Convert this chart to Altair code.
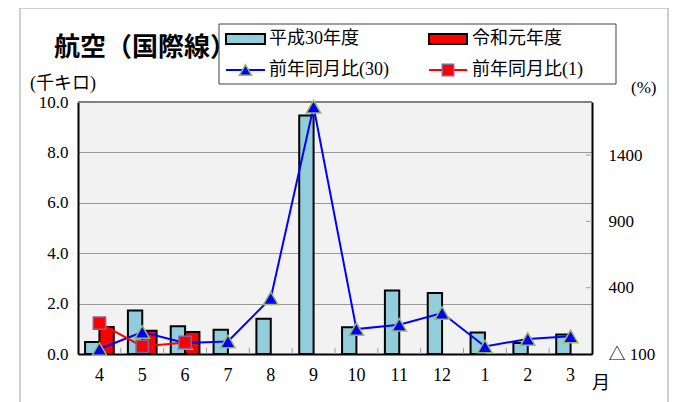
import altair as alt
import pandas as pd

# ---- data ----
months = ["4", "5", "6", "7", "8", "9", "10", "11", "12", "1", "2", "3"]
h30_vals = [0.48, 1.73, 1.10, 0.96, 1.40, 9.46, 1.06, 2.52, 2.42, 0.85, 0.44, 0.77]
r1_months = ["4", "5", "6"]
r1_vals = [1.07, 0.92, 0.87]
ratio30 = [-62, 66, -17, -5, 321, 1764, 88, 121, 209, -43, 13, 33]
ratio1 = [133, -43, -13]
series_names = ["平成30年度", "令和元年度"]
line_names = ["前年同月比(30)", "前年同月比(1)"]
left_ticks = [0, 2, 4, 6, 8, 10]
right_ticks = [-100, 400, 900, 1400]

bars_df = pd.DataFrame({
    "month": months + r1_months,
    "series": [series_names[0]] * len(months) + [series_names[1]] * len(r1_months),
    "value": h30_vals + r1_vals,
})
l30_df = pd.DataFrame({"month": months, "ratio": ratio30})
l1_df = pd.DataFrame({"month": r1_months, "ratio": ratio1})
tick_df = pd.DataFrame({"month": months[1:]})
rtick_df = pd.DataFrame({"ratio": right_ticks[1:]})
top_df = pd.DataFrame({"value": [left_ticks[-1]]})
one = pd.DataFrame({"k": [0]})

NUM = "Liberation Serif, DejaVu Serif, serif"
JP = "Liberation Serif, Noto Sans CJK JP, serif"
W, H = 514, 252
HALF_STEP = W / 12 / 2

x_axis = alt.Axis(title=None, labelAngle=0, ticks=False, domainColor="black",
                  domainWidth=2, labelFont=NUM, labelFontSize=18, labelPadding=12,
                  labelColor="black")
x_scale = alt.Scale(paddingInner=0.33, paddingOuter=0.165)


def xenc():
    return alt.X("month:N", sort=months, scale=x_scale, axis=x_axis)


yleft = alt.Y("value:Q", scale=alt.Scale(domain=[0, 10], nice=False),
              axis=alt.Axis(title=None, values=left_ticks, format=".1f", orient="left",
                            grid=True, gridColor="#9a9a9a", gridWidth=1, ticks=False,
                            domainColor="black", domainWidth=2, labelFont=NUM,
                            labelFontSize=17, labelPadding=10, labelColor="black"))

bars = alt.Chart(bars_df).mark_bar(stroke="black", strokeWidth=2).encode(
    x=xenc(),
    xOffset=alt.XOffset("series:N", sort=series_names,
                        scale=alt.Scale(domain=series_names, paddingInner=0, paddingOuter=0)),
    y=yleft,
    color=alt.Color("series:N", scale=alt.Scale(domain=series_names,
                                                range=["#92cddc", "#ff0000"]), legend=None),
)

minor = alt.Chart(tick_df).mark_rule(color="#a0a0a0", strokeWidth=1, xOffset=-HALF_STEP).encode(
    x=xenc(), y=alt.datum(0), y2=alt.datum(0.25)
)

top_edge = alt.Chart(top_df).mark_rule(color="#808080", strokeWidth=2).encode(
    y=alt.Y("value:Q"), x=alt.value(0), x2=alt.value(W))

left = alt.layer(bars, minor, top_edge)

right_expr = "datum.value < 0 ? '△ ' + format(-datum.value, 'd') : format(datum.value, 'd')"


def yright():
    return alt.Y("ratio:Q", scale=alt.Scale(domain=[-100, 1800], nice=False),
                 axis=alt.Axis(title=None, orient="right", values=right_ticks,
                               labelExpr=right_expr, grid=False, ticks=False,
                               domainColor="black", domainWidth=2, labelFont=JP,
                               labelFontSize=17, labelPadding=16, labelAlign="left",
                               labelColor="black"))


rticks = alt.Chart(rtick_df).mark_rule(color="#a0a0a0", strokeWidth=1).encode(
    y=yright(), x=alt.value(W - 6), x2=alt.value(W))
line30 = alt.Chart(l30_df).mark_line(color="#0000ff", strokeWidth=2).encode(x=xenc(), y=yright())
pts30 = alt.Chart(l30_df).mark_point(shape="triangle-up", fill="#0000ff", stroke="#9bbb59",
                                     strokeWidth=1.5, size=210, opacity=1, fillOpacity=1).encode(
    x=xenc(), y=yright())
line1 = alt.Chart(l1_df).mark_line(color="#ff0000", strokeWidth=2).encode(x=xenc(), y=yright())
pts1 = alt.Chart(l1_df).mark_point(shape="square", fill="#ff0000", stroke="#8064a2",
                                   strokeWidth=1.5, size=150, opacity=1, fillOpacity=1).encode(
    x=xenc(), y=yright())

right = alt.layer(rticks, line30, pts30, line1, pts1)


def txt(s, x, y, size=18, weight="normal", font=JP, align="left"):
    return alt.Chart(one).mark_text(text=s, font=font, fontSize=size, fontWeight=weight,
                                    align=align, baseline="middle", color="black").encode(
        x=alt.value(x), y=alt.value(y))


def box(x, x2, y, y2, fill, stroke, sw):
    return alt.Chart(one).mark_rect(fill=fill, stroke=stroke, strokeWidth=sw).encode(
        x=alt.value(x), x2=alt.value(x2), y=alt.value(y), y2=alt.value(y2))


frame = alt.Chart(one).mark_rect(fillOpacity=0, stroke="#a0a0a0", strokeWidth=1).encode(
    x=alt.value(-58), x2=alt.value(590), y=alt.value(-94), y2=alt.value(330))

legend_box = box(141, 538, -78, -18, "white", "#404040", 1)
sw1 = box(148, 187, -68, -58, "#92cddc", "black", 2)
sw2 = box(351, 389, -68, -58, "#ff0000", "black", 2)
lr1 = alt.Chart(one).mark_rule(color="#0000ff", strokeWidth=2).encode(
    x=alt.value(148), x2=alt.value(187), y=alt.value(-32))
lp1 = alt.Chart(one).mark_point(shape="triangle-up", fill="#0000ff", stroke="#9bbb59",
                                strokeWidth=1.5, size=150, opacity=1, fillOpacity=1).encode(
    x=alt.value(167.5), y=alt.value(-32))
lr2 = alt.Chart(one).mark_rule(color="#ff0000", strokeWidth=2).encode(
    x=alt.value(351), x2=alt.value(389), y=alt.value(-32))
lp2 = alt.Chart(one).mark_point(shape="square", fill="#ff0000", stroke="#8064a2",
                                strokeWidth=1.5, size=130, opacity=1, fillOpacity=1).encode(
    x=alt.value(370), y=alt.value(-32))

deco = [
    frame, legend_box, sw1, sw2, lr1, lp1, lr2, lp2,
    txt(series_names[0], 191, -63), txt(series_names[1], 394, -63),
    txt(line_names[0], 191, -32), txt(line_names[1], 394, -32),
    txt("航空（国際線）", -24, -54, size=26, weight="bold", font="Noto Sans CJK JP"),
    txt("(千キロ)", -48, -18, size=18),
    txt("(%)", 553, -14, size=17),
    txt("月", 514, 282, size=18),
]

chart = alt.layer(left, right, *deco).resolve_scale(y="independent").properties(
    width=W, height=H,
    padding={"left": 70, "top": 94, "right": 80, "bottom": 48},
    autosize=alt.AutoSizeParams(type="none"),
    background="white",
).configure_view(fill="#f2f2f2", stroke=None)

chart.save("out.html", embed_options={"renderer": "svg", "actions": False})
